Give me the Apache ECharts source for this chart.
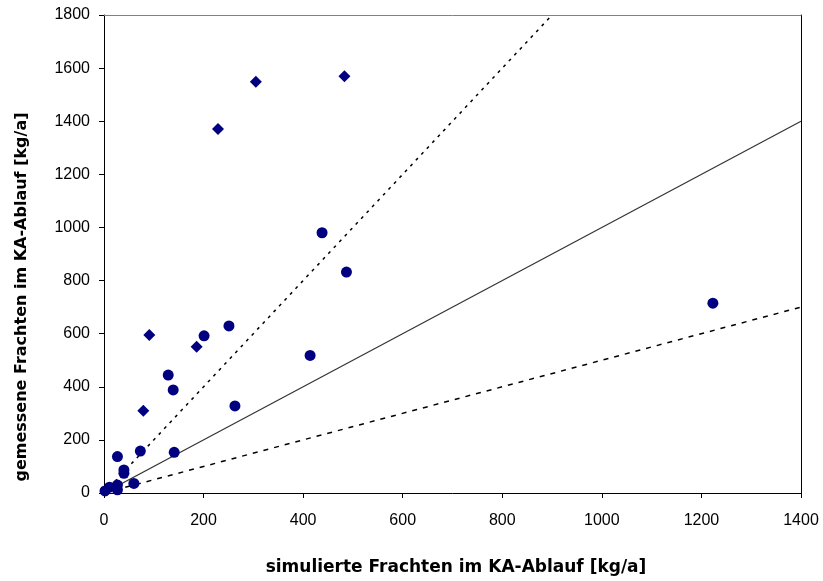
<!DOCTYPE html>
<html>
<head>
<meta charset="utf-8">
<script src="https://cdn.jsdelivr.net/npm/echarts@6/dist/echarts.min.js"></script>
<style>html,body{margin:0;padding:0;background:#fff;}#c{width:823px;height:581px;}</style>
</head>
<body>
<div id="c"></div>
<script>
// Tick values
var xTicks = [0, 200, 400, 600, 800, 1000, 1200, 1400];
var yTicks = [0, 200, 400, 600, 800, 1000, 1200, 1400, 1600, 1800];
// Measured points shown as diamonds [simuliert, gemessen]
var diamondPoints = [
  [483, 1569], [305, 1549], [229, 1371], [91, 595], [186, 551], [79, 310]
];
// Measured points shown as circles [simuliert, gemessen]
var circlePoints = [
  [438, 980], [487, 832], [251, 629], [201, 592], [414, 518], [1223, 715],
  [129, 444], [139, 388], [263, 328], [73, 158], [141, 153], [27, 137],
  [40, 87], [40, 74], [60, 36], [27, 30], [27, 12], [11, 22], [2, 8]
];
// Reference lines: 1:1, 2:1 and 1:2
var lineOneToOne = [[0, 0], [1400, 1400]];
var lineTwoToOne = [[0, 0], [900, 1800]];
var lineOneToTwo = [[0, 0], [1400, 700]];
var xTitle = 'simulierte Frachten im KA-Ablauf [kg/a]';
var yTitle = 'gemessene Frachten im KA-Ablauf [kg/a]';

var chart = echarts.init(document.getElementById('c'), null, {renderer: 'canvas'});
var font = '"Liberation Sans", Arial, sans-serif';
var navy = '#000080';
function plain(v) { return String(v); }
chart.setOption({
  animation: false,
  backgroundColor: '#ffffff',
  grid: {left: 104, right: 22, top: 15, bottom: 88, containLabel: false},
  xAxis: [{
    type: 'value', min: xTicks[0], max: xTicks[xTicks.length - 1], interval: xTicks[1] - xTicks[0],
    axisLine: {show: true, onZero: false, lineStyle: {color: '#000', width: 1}},
    axisTick: {show: true, inside: false, length: 5, lineStyle: {color: '#000'}},
    axisLabel: {margin: 20, color: '#000', fontSize: 16, fontFamily: font, formatter: plain},
    splitLine: {show: false}
  }, {
    type: 'value', min: xTicks[0], max: xTicks[xTicks.length - 1], position: 'top',
    axisLine: {show: true, onZero: false, lineStyle: {color: '#808080', width: 1}},
    axisTick: {show: false}, axisLabel: {show: false}, splitLine: {show: false}
  }],
  yAxis: [{
    type: 'value', min: yTicks[0], max: yTicks[yTicks.length - 1], interval: yTicks[1] - yTicks[0],
    axisLine: {show: true, onZero: false, lineStyle: {color: '#000', width: 1}},
    axisTick: {show: true, inside: false, length: 5, lineStyle: {color: '#000'}},
    axisLabel: {margin: 14, color: '#000', fontSize: 16, fontFamily: font, formatter: plain},
    splitLine: {show: false}
  }, {
    type: 'value', min: yTicks[0], max: yTicks[yTicks.length - 1], position: 'right',
    axisLine: {show: true, onZero: false, lineStyle: {color: '#000', width: 1}},
    axisTick: {show: false}, axisLabel: {show: false}, splitLine: {show: false}
  }],
  graphic: [{
    type: 'text', x: 456, y: 568,
    style: {text: xTitle, font: 'bold 17px "DejaVu Sans", sans-serif', fill: '#000', align: 'center', verticalAlign: 'middle'}
  }, {
    type: 'text', x: 22, y: 297, rotation: Math.PI / 2,
    style: {text: yTitle, font: 'bold 16px "DejaVu Sans", sans-serif', fill: '#000', align: 'center', verticalAlign: 'middle'}
  }],
  series: [{
    type: 'line', data: lineOneToTwo, symbol: 'none', clip: true,
    lineStyle: {color: '#000', width: 1.5, type: [5, 6]}, z: 2
  }, {
    type: 'line', data: lineTwoToOne, symbol: 'none', clip: true,
    lineStyle: {color: '#000', width: 1.5, type: [3, 5]}, z: 2
  }, {
    type: 'line', data: lineOneToOne, symbol: 'none', clip: true,
    lineStyle: {color: '#333', width: 1.2, type: 'solid'}, z: 2
  }, {
    type: 'scatter', data: circlePoints, symbol: 'circle', symbolSize: 11,
    itemStyle: {color: navy, opacity: 1}, z: 3, clip: false
  }, {
    type: 'scatter', data: diamondPoints, symbol: 'diamond', symbolSize: [12, 12],
    itemStyle: {color: navy, opacity: 1}, z: 3, clip: false
  }]
});
</script>
</body>
</html>
